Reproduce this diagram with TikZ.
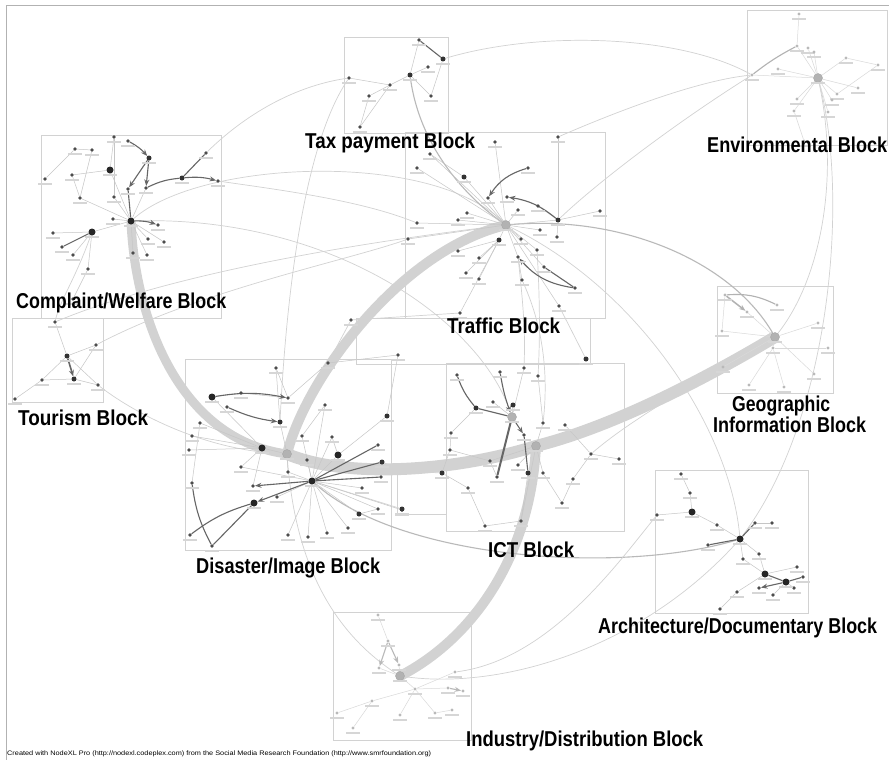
\documentclass[tikz,border=0pt]{standalone}
\usepackage{fontspec}
\setmainfont{Liberation Sans}
\usepackage{graphicx}
\usetikzlibrary{arrows.meta}
\pgfdeclarelayer{bands}
\pgfdeclarelayer{edges}
\pgfsetlayers{bands,edges,main}
\tikzset{
 nd/.style={circle,fill=black!70,inner sep=0pt,minimum size=3.6pt},
 nm/.style={circle,fill=black!80,inner sep=0pt,minimum size=5pt},
 nb/.style={circle,fill=black!85,inner sep=0pt,minimum size=7pt},
 hubg/.style={circle,fill=gray!60,draw=gray!70,inner sep=0pt,minimum size=9pt},
 nf/.style={circle,fill=gray!55,inner sep=0pt,minimum size=3.4pt},
 ed/.style={draw=gray!45,line width=0.5pt},
 edf/.style={draw=gray!30,line width=0.5pt},
 dk/.style={draw=black!60,line width=1.1pt,-{Stealth[length=6.5pt,width=5pt]}},
 dkl/.style={draw=black!60,line width=1.1pt},
 farc/.style={draw=gray!35,line width=0.7pt},
 marc/.style={draw=gray!55,line width=1.1pt},
 band/.style={draw=gray!35,line width=10pt},
 blk/.style={draw=gray!35,line width=0.7pt},
 lbl/.style={draw=gray!32,line width=1.4pt},
 ttl/.style={font=\bfseries\fontsize{21.5}{23}\selectfont,inner sep=0pt,text=black,anchor=base west},
}
\newcommand\Pts[2]{\foreach \n/\x/\y in {#2}{\node[#1] (\n) at (\x,\y) {}; \draw[lbl] ([yshift=-5pt]\n.center) +(-7pt,0) -- +(7pt,0);}}
\newcommand\Ttl[4]{\node[ttl] at (#1,#2) {\resizebox{#3pt}{\height}{#4}};}
\begin{document}
\begin{tikzpicture}[x=1pt,y=-1pt]
\useasboundingbox (0,0) rectangle (889,760);
\begin{pgfonlayer}{bands}
\fill[white] (0,0) rectangle (889,760);
\end{pgfonlayer}
\draw[gray!60,line width=0.8pt] (6,760) -- (6,5) -- (889,5);

% ---------- nodes ----------
% Disaster
\Pts{nd}{D1/276/368, D2/328/363, D3/241/393, D5/288/398, D6/227/407, D8/325/405, D9/200/423, D10/192/436, D11/189/450, D13/302/436, D14/332/437, D16/378/445, D18/307/460, D20/381/477, D21/241/467, D22/288/472, D23/192/483, D24/253/486, D25/277/497, D27/362/488, D29/378/509, D30/402/510, D31/348/528, D32/327/533, D33/308/537, D34/288/535, D35/190/535, D36/212/546, D37/398/355, M1/351/320}
\Pts{nm}{D7/280/422, D15/387/416, D19/382/462, D28/359/514, M3/586/359}
\Pts{nb}{D4/212/397, D12/262/448, D17/338/455, D26/254/503, DH2/312/481}
\Pts{hubg}{DH/287/454}
% ICT
\Pts{nd}{I1/457/375, I2/500/372, I3/524/368, I4/538/376, I7/493/402, I9/543/423, I10/565/425, I11/524/435, I12/451/433, I13/450/450, I14/490/461, I15/518/465, I17/543/473, I18/497/477, I20/591/454, I21/619/459, I22/573/479, I23/468/488, I24/562/503, I25/485/526, I26/521/521}
\Pts{nm}{I6/476/408, I8/513/405, I16/528/473, I19/442/473, I27/402/509}
\Pts{hubg}{IH1/512/417, IH/536/446}
% Traffic
\Pts{nd}{T1/495/142, T2/558/137, T3/430/154, T4/417/168, T6/528/168, T7/488/198, T8/507/197, T9/538/206, T10/518/210, T12/600/211, T13/467/213, T14/458/220, T15/417/223, T16/408/239, T18/521/239, T19/540/230, T20/557/237, T21/537/250, T22/458/251, T23/479/258, T24/518/257, T25/544/267, T26/466/273, T27/479/279, T28/522/280, T29/575/288, T30/559/306, T31/460/313}
\Pts{nm}{T5/464/177, T11/558/220, T17/499/240}
\Pts{hubg}{TH/506/225}
% Complaint
\Pts{nd}{C1/114/137, C2/128/141, C3/75/149, C4/92/150, C7/72/175, C8/45/179, C10/206/153, C11/218/181, C12/128/189, C13/146/188, C14/80/198, C15/114/197, C16/113/219, C17/158/225, C18/164/242, C19/148/239, C21/53/233, C22/62/247, C23/73/255, C24/133/253, C25/147/255, C26/88/269, C27/73/299}
\Pts{nm}{C5/149/158, C9/182/178}
\Pts{nb}{C6/110/170, C20/92/232, CH/131/221}
% Tourism
\Pts{nd}{U1/55/322, U2/96/345, U4/42/380, U6/98/385, U7/15/399}
\Pts{nm}{U3/67/356, U5/74/379}
% Tax payment
\Pts{nd}{X1/419/40, X3/428/67, X5/390/85, X6/349/78, X7/369/96, X8/431/96, X9/360/127}
\Pts{nm}{X2/443/59, X4/410/75}
% Environmental
\Pts{nf}{E1/799/14, E2/797/46, E3/808/48, E4/814/52, E5/778/69, E6/752/75, E7/846/58, E8/878/65, E9/858/88, E10/837/94, E11/832/100, E12/797/99, E13/794/111, E14/828/112, E15/804/141}
\Pts{hubg}{EH/818/78}
% Geographic
\Pts{nf}{G1/725/295, G2/777/305, G3/747/312, G4/722/331, G5/818/323, G6/773/348, G7/828/348, G8/723/367, G9/814/374, G10/749/385, G11/784/387}
\Pts{hubg}{GH/775/337}
% Architecture
\Pts{nd}{A1/681/474, A2/690/493, A4/657/515, A5/717/525, A6/755/523, A7/772/523, A8/708/545, A9/759/554, A10/743/559, A11/797/567, A13/803/577, A15/759/588, A16/794/588, A17/737/592, A18/773/595, A19/720/609}
\Pts{nb}{A3/692/512, AH/740/539, A12/765/574, A14/786/582}
% Industry
\Pts{nf}{N1/378/615, N2/388/641, N3/379/668, N4/399/665, N5/415/689, N6/455/672, N7/448/688, N8/463/691, N9/372/701, N10/337/713, N11/400/715, N12/435/713, N13/452/710, N14/353/728}
\Pts{hubg}{NH/400/676}

% ---------- boxes and bands ----------
\begin{pgfonlayer}{bands}
\draw[blk] (344,37) rectangle (448,133);
\draw[blk] (747,10) rectangle (887,145);
\draw[blk] (41,135) rectangle (221,318);
\draw[blk] (12,318) rectangle (103,402);
\draw[blk] (405,132) rectangle (605,318);
\draw[blk] (356,318) rectangle (590,364);
\draw[blk] (185,359) rectangle (391,550);
\draw[blk] (446,363) rectangle (624,531);
\draw[blk] (397,470) rectangle (446,514);
\draw[blk] (717,286) rectangle (833,393);
\draw[blk] (655,470) rectangle (808,613);
\draw[blk] (333,612) rectangle (471,740);
\draw[band,line width=9pt] (CH.center) .. controls (135,320) and (180,440) .. (DH.center);
\draw[band,line width=10pt] (DH.center) .. controls (305,380) and (400,250) .. (TH.center);
\draw[band,line width=12pt] (DH.center) .. controls (350,480) and (460,470) .. (IH.center) .. controls (620,425) and (720,370) .. (GH.center);
\draw[band,line width=10pt] (IH.center) .. controls (530,560) and (470,640) .. (NH.center);
\end{pgfonlayer}

% ---------- edges ----------
\begin{pgfonlayer}{edges}
% long arcs
\draw[farc] (C10) .. controls (250,110) and (300,85) .. (X6);
\draw[farc] (X2) .. controls (540,30) and (680,35) .. (E6);
\draw[farc] (T2) .. controls (620,110) and (700,80) .. (E6);
\draw[farc] (EH) .. controls (840,180) and (820,280) .. (GH);
\draw[farc] (EH) .. controls (850,200) and (830,420) .. (AH);
\draw[farc] (AH) .. controls (640,650) and (500,690) .. (NH);
\draw[farc] (CH) .. controls (200,160) and (430,150) .. (TH);
\draw[farc] (CH) .. controls (330,215) and (480,320) .. (IH1);
\draw[marc] (TH) .. controls (620,215) and (730,260) .. (GH);
\draw[farc] (TH) .. controls (640,290) and (730,430) .. (AH);
\draw[marc] (DH2) .. controls (400,560) and (620,575) .. (AH);
\draw[farc] (DH) .. controls (295,560) and (330,630) .. (NH);
\draw[farc] (U6) .. controls (130,410) and (200,450) .. (DH);
\draw[farc] (U1) .. controls (180,270) and (380,240) .. (TH);
\draw[farc] (U2) .. controls (200,290) and (350,260) .. (T16);
\draw[farc] (C20) .. controls (75,280) and (60,300) .. (U1);
\draw[marc] (X4) .. controls (420,150) and (470,200) .. (TH);
\draw[farc] (X6) .. controls (300,150) and (285,320) .. (D7);
\draw[farc] (T21) .. controls (540,300) and (540,340) .. (I4);
\draw[farc] (T24) .. controls (525,320) and (525,340) .. (I3);
\draw[farc] (T28) .. controls (545,330) and (548,380) .. (I9);
\draw[farc] (GH) .. controls (700,380) and (630,420) .. (I20);
\draw[farc] (D19) .. controls (400,470) and (420,472) .. (I19);
\draw[farc] (C11) .. controls (280,190) and (360,200) .. (T15);
\draw[farc] (E6) .. controls (680,120) and (600,180) .. (T11);
\draw[farc] (N6) .. controls (550,660) and (620,560) .. (A4);
\draw[farc] (T30) -- (M3);
\draw[farc] (T31) -- (M1);
\draw[farc] (M1) -- (D2);
\draw[farc] (I27) -- (DH2);
% Disaster
\foreach \a/\b in {DH2/D13, DH2/D14, DH2/D17, DH2/D18, DH2/D22, DH2/D25, DH2/D27, DH2/D28, DH2/D29, DH2/D30, DH2/D31, DH2/D32, DH2/D33, DH2/D34, DH2/D21, DH2/D8, D4/D12, D4/D3, D1/D7, D1/D5, D2/D5, D3/D5, D12/D9, D12/D10, D12/D11, D12/D21, D17/D15, D17/D14, D7/DH, D13/D8, D12/DH, D22/DH, D9/D23, D24/D12, D37/D2, D28/D29, D15/D37}
  \draw[ed] (\a) -- (\b);
\draw[dk] (D4) to[bend left=10] (D5);
\draw[dk] (D6) to[bend right=8] (D7);
\draw[dk] (DH2) -- (D26);
\draw[dk] (DH2) -- (D24);
\draw[dkl] (DH2) -- (D19);
\draw[dkl] (DH2) -- (D20);
\draw[dkl] (DH2) -- (D16);
\draw[dkl] (D26) to[bend right=10] (D35);
\draw[dkl] (D23) to[bend right=10] (D36);
\draw[dkl] (D26) -- (D36);
% ICT
\foreach \a/\b in {I12/I6, I13/I12, I13/I14, IH/I14, IH/I15, IH/I17, I9/IH, I10/I20, I20/I21, I20/I22, I22/I24, I24/I17, I23/I25, I25/I26, I26/IH, I19/I23, I7/IH1, I8/IH1, I3/IH1, I4/I9, I18/I14, I16/I26, I19/I13}
  \draw[ed] (\a) -- (\b);
\draw[dkl] (I1) to[bend right=10] (I6);
\draw[dkl] (I6) -- (IH1);
\draw[dk] (I2) to[bend right=5] (IH1);
\draw[dk] (IH1) -- (I11);
\draw[dkl] (I11) -- (I16);
\draw[dkl,line width=2pt] (IH1) -- (I18);
% Traffic
\foreach \a/\b in {T1/TH, T2/T11, T3/TH, T4/TH, T5/TH, T13/TH, T14/TH, T15/TH, T16/TH, T17/TH, T12/T11, T11/TH, T18/TH, T19/TH, T20/T11, T21/TH, T22/T17, T23/T17, T24/TH, T26/T17, T27/T17, T28/T24, T30/TH, T31/T17, T10/TH, T9/T11, T7/TH, T3/T5, T25/TH}
  \draw[ed] (\a) -- (\b);
\draw[dk] (T6) to[bend right=20] (T7);
\draw[dk] (T11) to[bend right=15] (T8);
\draw[dkl] (T29) -- (T25);
\draw[dk] (T29) to[bend left=20] (T24);
% Complaint
\foreach \a/\b in {C1/C6, C1/C15, C3/C4, C3/C8, C6/CH, C13/CH, C15/CH, C14/C7, C18/CH, C19/CH, C24/CH, C25/CH, C20/C21, C20/C23, C20/C26, C20/CH, C16/CH, C4/C14, C14/CH, C6/C7, C26/C27}
  \draw[ed] (\a) -- (\b);
\draw[dk] (C2) to[bend left=10] (C5);
\draw[dk] (C5) -- (C12);
\draw[dk] (C5) -- (C13);
\draw[dkl] (C13) to[bend left=10] (C9);
\draw[dk] (C9) to[bend left=10] (C11);
\draw[dkl] (C10) -- (C9);
\draw[dkl] (C12) -- (CH);
\draw[dk] (CH) to[bend left=10] (C17);
\draw[dkl] (C20) -- (C22);
% Tourism
\foreach \a/\b in {U1/U3, U2/U5, U3/U6, U4/U5, U5/U6, U3/U4, U4/U7, U2/U3}
  \draw[ed] (\a) -- (\b);
\draw[dk,line width=1.6pt] (U3) -- (U5);
% Tax
\foreach \a/\b in {X2/X8, X3/X4, X1/X4, X4/X5, X5/X7, X6/X5, X7/X9, X5/X9, X4/X8}
  \draw[ed] (\a) -- (\b);
\draw[dkl] (X1) -- (X2);
% Environmental
\foreach \a/\b in {E1/E2, E2/EH, E3/EH, E4/EH, E5/EH, E6/EH, E7/EH, E8/E7, E8/E10, E9/EH, E10/EH, E11/EH, E12/EH, E13/EH, E14/EH, E15/E13}
  \draw[edf] (\a) -- (\b);
\draw[dkl,draw=gray!60] (E2) to[bend right=5] (E6);
% Geographic
\foreach \a/\b in {G1/G4, G3/GH, G4/GH, G5/GH, G6/G7, GH/G9, G6/G11, G8/GH, G10/G6, GH/G6}
  \draw[edf] (\a) -- (\b);
\draw[dkl,draw=gray!60] (G1) to[bend left=15] (G2);
\draw[dk,draw=gray!60,line width=1.5pt] (G1) -- (G3);
% Architecture
\foreach \a/\b in {A1/A2, A2/A3, A3/A4, A3/A5, A5/AH, A7/A6, AH/A9, AH/A10, A9/A12, A12/A11, A12/A17, A17/A19, A14/A18, A14/A16, A10/A12}
  \draw[ed] (\a) -- (\b);
\draw[dkl] (A6) -- (AH);
\draw[dkl] (A8) -- (AH);
\draw[dkl] (A12) -- (A14);
\draw[dkl] (A14) -- (A13);
\draw[dk] (A14) -- (A15);
% Industry
\foreach \a/\b in {N1/N2, N4/NH, N3/NH, NH/N5, N5/N6, N5/N7, N5/N9, N9/N10, N9/N14, N5/N11, N5/N12, N12/N13}
  \draw[edf] (\a) -- (\b);
\draw[dk,draw=gray!55] (N2) -- (N3);
\draw[dk,draw=gray!55] (N2) -- (N4);
\draw[dk,draw=gray!55] (N7) -- (N8);
\end{pgfonlayer}

% ---------- titles ----------
\Ttl{305}{148}{170}{Tax payment Block}
\Ttl{707}{152}{180}{Environmental Block}
\Ttl{16}{308}{210}{Complaint/Welfare Block}
\Ttl{447}{333}{113}{Traffic Block}
\Ttl{18}{425}{130}{Tourism Block}
\Ttl{732}{411}{98}{Geographic}
\Ttl{713}{432}{153}{Information Block}
\Ttl{196}{573}{184}{Disaster/Image Block}
\Ttl{488}{557}{86}{ICT Block}
\Ttl{598}{633}{279}{Architecture/Documentary Block}
\Ttl{466}{746}{237}{Industry/Distribution Block}
\node[anchor=base west,inner sep=0pt] at (7,755) {\resizebox{424pt}{\height}{\fontsize{6.5}{7}\selectfont Created with NodeXL Pro (http://nodexl.codeplex.com) from the Social Media Research Foundation (http://www.smrfoundation.org)}};
\end{tikzpicture}
\end{document}
